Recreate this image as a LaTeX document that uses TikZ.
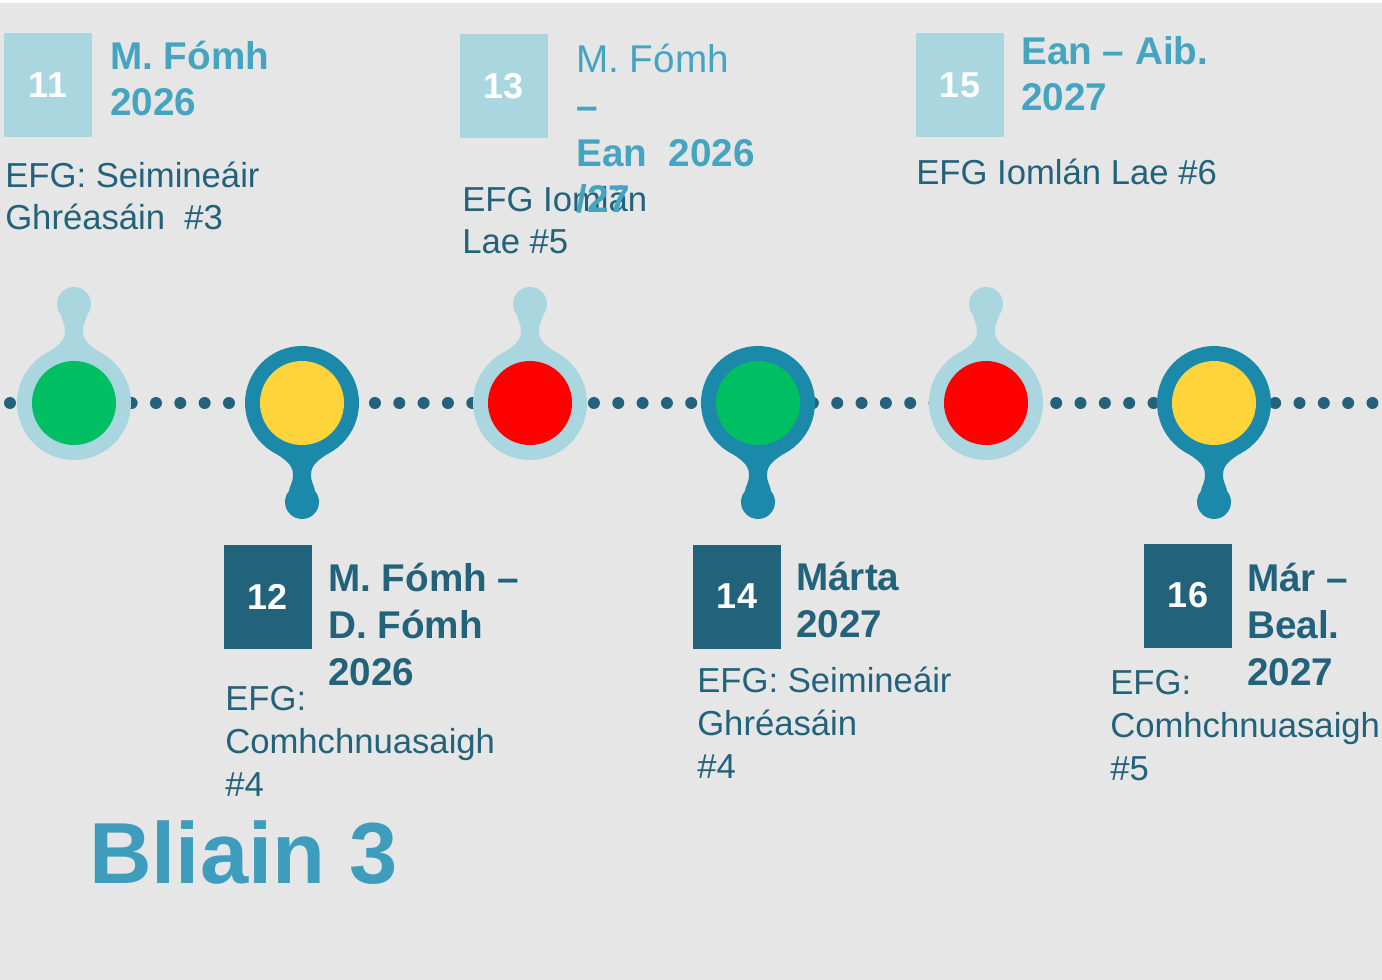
\documentclass[tikz,border=0pt]{standalone}
\usepackage{fontspec}
\setmainfont{Liberation Sans}
\usepackage{tikz}

\definecolor{bgGrey}{HTML}{E6E6E6}
\definecolor{paleBlue}{HTML}{A9D6DF}
\definecolor{midTeal}{HTML}{1B8AAA}
\definecolor{darkTeal}{HTML}{22637B}
\definecolor{skyText}{HTML}{45A5C1}
\definecolor{yearText}{HTML}{3E9DBD}
\definecolor{dotGreen}{HTML}{00BF63}
\definecolor{dotYellow}{HTML}{FFD33A}
\definecolor{dotRed}{HTML}{FF0000}

\begin{document}
\begin{tikzpicture}[x=0.75pt, y=-0.75pt,
    numbox/.style={text=white, font=\fontsize{27}{32}\selectfont\bfseries,
        minimum width=66pt, minimum height=78pt, inner sep=0pt},
    head/.style={anchor=base west, align=left, inner sep=0pt,
        font=\fontsize{29}{35}\selectfont\bfseries},
    note/.style={anchor=base west, align=left, inner sep=0pt, text=darkTeal,
        font=\fontsize{26}{32}\selectfont}]
        \useasboundingbox (0,0) rectangle (1382,980);
        \fill[white] (0,0) rectangle (1382,980);
        \fill[bgGrey] (0,3) rectangle (1382,980);
        % dotted time line
        \foreach \k in {0,...,56}
            \fill[darkTeal] ({10+24.33*\k},403) circle (6);
        % pins: x / direction / ring / centre
        \foreach \px/\dir/\ring/\core in {74/-1/paleBlue/dotGreen, 302/1/midTeal/dotYellow,
                530/-1/paleBlue/dotRed, 758/1/midTeal/dotGreen,
                986/-1/paleBlue/dotRed, 1214/1/midTeal/dotYellow} {
            \begin{scope}[shift={(\px,403)}, yscale=\dir]
                \fill[\ring] (0,0) circle (57);
                \fill[\ring] (0,99) circle (17);
                \fill[\ring] (-36,44.2) .. controls (-18,56) and (-9,60) .. (-9,72)
                    .. controls (-9,80) and (-13,84) .. (-13,88) -- (13,88)
                    .. controls (13,84) and (9,80) .. (9,72)
                    .. controls (9,60) and (18,56) .. (36,44.2) -- cycle;
                \fill[\core] (0,0) circle (42);
            \end{scope}
        }
        % upper row (base = last line)
        \node[numbox, fill=paleBlue] (n11) at (48,85) {11};
        \node[note] (t11) at (5,230) {EFG: Seimineáir\\Ghréasáin\ \ \#3};
        \node[head, text=skyText] (h11) at (110,116) {M. Fómh\\2026};
        \node[numbox, fill=paleBlue] (n13) at (504,86.5) {13};
        \node[note] (t13) at (462,254) {EFG Iomlán\\Lae \#5};
        \node[head, text=skyText] (h13) at (576,213) {\mdseries M. Fómh\\–\\Ean\ \ 2026\\/27};
        \node[numbox, fill=paleBlue] (n15) at (960,85) {15};
        \node[note] (t15) at (916,185) {EFG Iomlán Lae \#6};
        \node[head, text=skyText] (h15) at (1021,111) {Ean – Aib.\\2027};
        % lower row
        \node[numbox, fill=darkTeal] (n12) at (268,596.5) {12};
        \node[note] (t12) at (225,796) {EFG:\\Comhchnuasaigh\\\#4};
        \node[head, text=darkTeal] (h12) at (328,685) {M. Fómh –\\D. Fómh\\2026};
        \node[numbox, fill=darkTeal] (n14) at (737,596.5) {14};
        \node[note] (t14) at (697,778) {EFG: Seimineáir\\Ghréasáin\\\#4};
        \node[head, text=darkTeal] (h14) at (796,637) {Márta\\2027};
        \node[numbox, fill=darkTeal] (n16) at (1188,595.5) {16};
        \node[note] (t16) at (1110,780) {EFG:\\Comhchnuasaigh\\\#5};
        \node[head, text=darkTeal] (h16) at (1247,685) {Már –\\Beal.\\2027};
        % year label
        \node[anchor=base west, inner sep=0pt, text=yearText,
            font=\fontsize{65}{78}\selectfont\bfseries] (year) at (89,883) {Bliain 3};
\end{tikzpicture}
\end{document}
